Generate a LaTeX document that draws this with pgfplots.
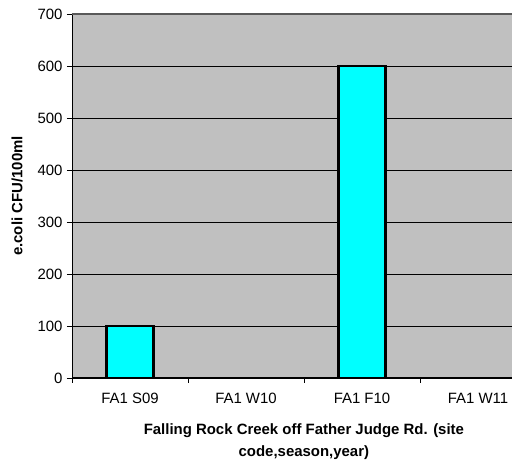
\documentclass[border=0pt]{standalone}
\usepackage{fontspec}
\setmainfont{Liberation Sans}
\usepackage{pgfplots}
\pgfplotsset{compat=1.18}
\definecolor{plotgray}{RGB}{192,192,192}
\definecolor{barcyan}{RGB}{0,255,255}

\begin{document}
\begin{tikzpicture}
\begin{axis}[
    scale only axis,
    width=440bp,
    height=364bp,
    xmin=-0.5, xmax=3.293,
    ymin=0, ymax=700,
    ytick={0,100,...,700},
    xtick={0,1,2,3},
    xticklabels={FA1 S09,FA1 W10,FA1 F10,FA1 W11},
    minor xtick={-0.5,0.5,1.5,2.5},
    major x tick style={draw=none},
    minor x tick style={black, line width=0.8pt},
    minor tick length=5bp,
    major tick length=5bp,
    y tick style={black, line width=0.8pt},
    tick align=outside,
    xtick pos=bottom, ytick pos=left,
    ymajorgrids=true,
    grid style={black, line width=0.6pt},
    axis background/.style={fill=plotgray},
    axis x line*=bottom,
    axis y line*=left,
    axis line style={black, line width=1pt},
    tick label style={font=\fontsize{15}{17}\selectfont},
    /pgf/number format/assume math mode=true,
    xticklabel style={yshift=-7bp},
    yticklabel style={xshift=-1bp},
    ybar, bar width=47bp,
    clip=false,
]
\addplot[fill=barcyan, draw=black, line width=2.4pt, bar shift=0pt] coordinates {
    (0,100) (2,600)
};
\draw[gray!70!black, line width=1.2pt] (rel axis cs:0,1) -- (rel axis cs:1,1);
\coordinate (ll) at (rel axis cs:0,0);
\coordinate (ur) at (rel axis cs:1,1);
\node[font=\bfseries\fontsize{15}{22}\selectfont, align=center, anchor=north]
    at ([yshift=-42bp]rel axis cs:0.527,0)
    {Falling Rock Creek off Father Judge Rd. (site\\code,season,year)};
\node[font=\bfseries\fontsize{15}{17}\selectfont, rotate=90]
    at ([xshift=-55bp]rel axis cs:0,0.5) {e.coli CFU/100ml};
\end{axis}
\pgfresetboundingbox
\path ([xshift=-72bp,yshift=-83bp]ll) rectangle ([yshift=14bp]ur);
\end{tikzpicture}
\end{document}
